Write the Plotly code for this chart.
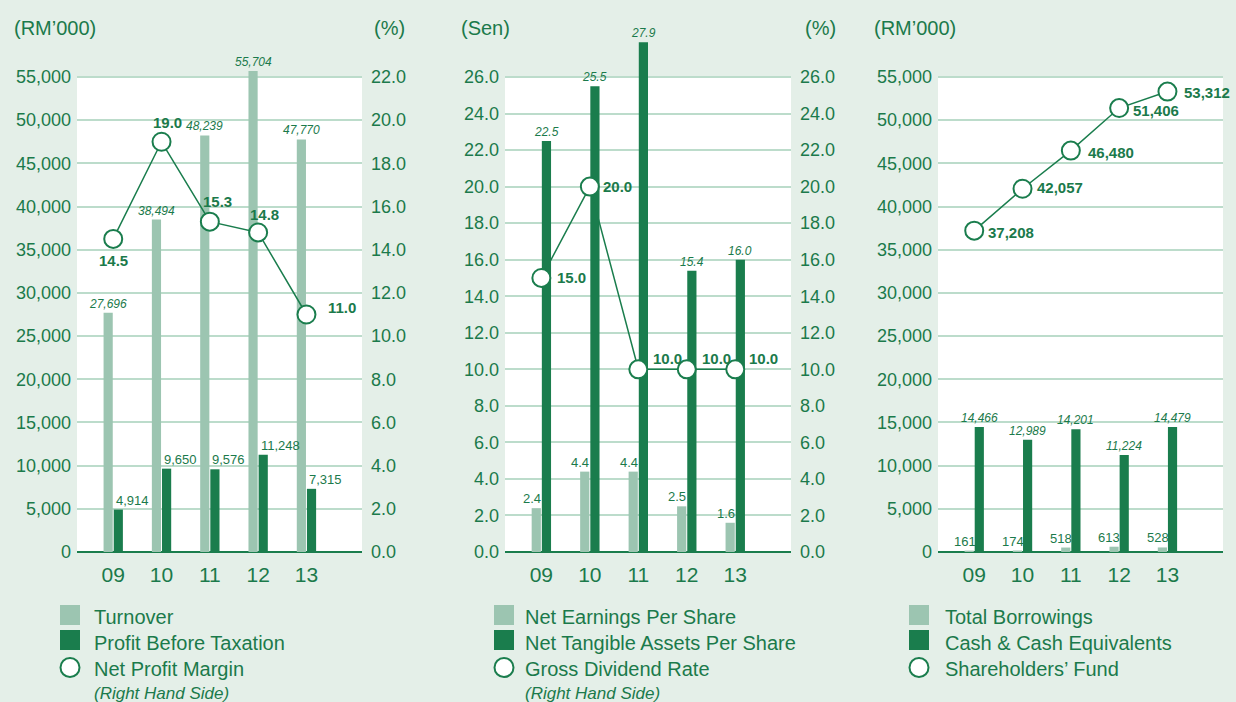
import plotly.graph_objects as go

# ---------------- data ----------------
years = ["09", "10", "11", "12", "13"]

turnover = [27696, 38494, 48239, 55704, 47770]
profit_before_tax = [4914, 9650, 9576, 11248, 7315]
net_profit_margin = [14.5, 19.0, 15.3, 14.8, 11.0]

net_eps = [2.4, 4.4, 4.4, 2.5, 1.6]
nta_per_share = [22.5, 25.5, 27.9, 15.4, 16.0]
gross_dividend_rate = [15.0, 20.0, 10.0, 10.0, 10.0]

total_borrowings = [161, 174, 518, 613, 528]
cash_equivalents = [14466, 12989, 14201, 11224, 14479]
shareholders_fund = [37208, 42057, 46480, 51406, 53312]

names1 = ["Turnover", "Profit Before Taxation", "Net Profit Margin"]
names2 = ["Net Earnings Per Share", "Net Tangible Assets Per Share", "Gross Dividend Rate"]
names3 = ["Total Borrowings", "Cash & Cash Equivalents", "Shareholders’ Fund"]
rhs_note = "(Right Hand Side)"

# ---------------- style ----------------
W, H = 1236, 702
BG = "#e4efe8"
GREEN = "#1b7a4b"
DARK = "#1a7d4d"
LIGHT = "#9cc5b1"
GRID = "#bcdccb"
FONT = "Liberation Sans"
NARROW = "Liberation Sans Narrow, Liberation Sans"

PLOT_TOP = 77      # px of top gridline
PLOT_BOT = 552     # px of zero line
DOM_TOP = 30       # px top of (unclipped) plotting region

def fx(p):
    return p / W

def fy(p):
    return 1 - p / H

def top_range(v):
    return v * (PLOT_BOT - DOM_TOP) / (PLOT_BOT - PLOT_TOP)

panels = [
    dict(x0=77, x1=362),
    dict(x0=505, x1=791),
    dict(x0=938, x1=1223),
]
XR = [-0.75, 5.15]

xpos = list(range(len(years)))  # category index positions on the axis

BW = 0.19
OFF_L = -0.2
OFF_D = 0.01

fig = go.Figure()

def add_bars(xa, ya, light, dark, n_light, n_dark):
    fig.add_trace(go.Bar(x=xpos, y=light, name=n_light, width=BW, offset=OFF_L,
                         marker=dict(color=LIGHT, line=dict(width=0)),
                         xaxis=xa, yaxis=ya, showlegend=False))
    fig.add_trace(go.Bar(x=xpos, y=dark, name=n_dark, width=BW, offset=OFF_D,
                         marker=dict(color=DARK, line=dict(width=0)),
                         xaxis=xa, yaxis=ya, showlegend=False))

def add_line(xa, ya, vals, name):
    fig.add_trace(go.Scatter(x=xpos, y=vals, name=name, mode="lines+markers",
                             line=dict(color=DARK, width=1.5),
                             marker=dict(size=18, color="white", line=dict(color=DARK, width=2)),
                             xaxis=xa, yaxis=ya, cliponaxis=False, showlegend=False))

add_bars("x", "y", turnover, profit_before_tax, names1[0], names1[1])
add_line("x", "y2", net_profit_margin, names1[2])
add_bars("x2", "y3", net_eps, nta_per_share, names2[0], names2[1])
add_line("x2", "y4", gross_dividend_rate, names2[2])
add_bars("x3", "y5", total_borrowings, cash_equivalents, names3[0], names3[1])
add_line("x3", "y5", shareholders_fund, names3[2])

annotations = []
shapes = []

def fmt_int(v):
    return f"{v:,}"

def fmt_1(v):
    return f"{v:.1f}"

def bar_labels(xa, ya, vals, fmt, italic, dx, xanchor="center", narrow=False, size=12):
    for i, v in zip(xpos, vals):
        annotations.append(dict(
            x=i + dx, y=v, xref=xa, yref=ya, text=fmt(v), showarrow=False,
            xanchor=xanchor, yanchor="bottom",
            font=dict(family=NARROW if narrow else FONT, size=size, color=GREEN,
                      style="italic" if italic else "normal")))

def line_labels(xa, ya, vals, fmt, offsets):
    for i, v, (xs, ys, anc) in zip(xpos, vals, offsets):
        annotations.append(dict(
            x=i, y=v, xref=xa, yref=ya, text=f"<b>{fmt(v)}</b>", showarrow=False,
            xanchor=anc, yanchor="middle", xshift=xs, yshift=ys,
            font=dict(family=FONT, size=15, color=GREEN)))

# panel 1 labels
bar_labels("x", "y", turnover, fmt_int, True, OFF_L + BW / 2)
bar_labels("x", "y", profit_before_tax, fmt_int, False, OFF_D, "left", narrow=True, size=13)
line_labels("x", "y2", net_profit_margin, fmt_1,
            [(0, -22, "center"), (6, 19, "center"), (8, 20, "center"), (6, 18, "center"), (20, 7, "left")])
# panel 2 labels
bar_labels("x2", "y3", net_eps, fmt_1, False, OFF_L, narrow=True, size=13)
bar_labels("x2", "y3", nta_per_share, fmt_1, True, OFF_D + BW / 2)
line_labels("x2", "y4", gross_dividend_rate, fmt_1,
            [(14, 0, "left"), (11, 0, "left"), (13, 11, "left"), (13, 11, "left"), (12, 11, "left")])
# panel 3 labels
bar_labels("x3", "y5", total_borrowings, fmt_int, False, OFF_L, narrow=True, size=13)
bar_labels("x3", "y5", cash_equivalents, fmt_int, True, OFF_D + BW / 2)
line_labels("x3", "y5", shareholders_fund, fmt_int,
            [(12, -2, "left"), (12, 1, "left"), (15, -2, "left"), (12, -2, "left"), (15, -1, "left")])

# plot background is white; cover the strip above the top gridline with page colour
for p in panels:
    shapes.append(dict(type="rect", xref="paper", yref="paper",
                       x0=fx(p["x0"] - 2), x1=fx(p["x1"] + 2), y0=fy(PLOT_TOP), y1=fy(DOM_TOP - 3),
                       fillcolor=BG, line=dict(width=0), layer="below"))

# unit labels
for text, xpx in [("(RM’000)", 12), ("(%)", 372), ("(Sen)", 459), ("(%)", 803), ("(RM’000)", 872)]:
    annotations.append(dict(x=fx(xpx), y=fy(28), xref="paper", yref="paper", text=text,
                            showarrow=False, xanchor="left", yanchor="middle",
                            font=dict(family=FONT, size=20, color=GREEN)))

# legends
legend_sets = [(60, 92, names1, True), (494, 523, names2, True), (909, 943, names3, False)]
for sq, tx, names, rhs in legend_sets:
    shapes.append(dict(type="rect", xref="paper", yref="paper", x0=fx(sq), x1=fx(sq + 20),
                       y0=fy(625), y1=fy(605), fillcolor=LIGHT, line=dict(width=0)))
    shapes.append(dict(type="rect", xref="paper", yref="paper", x0=fx(sq), x1=fx(sq + 20),
                       y0=fy(650), y1=fy(630), fillcolor=DARK, line=dict(width=0)))
    shapes.append(dict(type="circle", xref="paper", yref="paper", x0=fx(sq + 0.5), x1=fx(sq + 19.5),
                       y0=fy(677), y1=fy(658), fillcolor="white", line=dict(color=DARK, width=2)))
    for name, ypx in zip(names, [617, 643, 669]):
        annotations.append(dict(x=fx(tx), y=fy(ypx), xref="paper", yref="paper", text=name,
                                showarrow=False, xanchor="left", yanchor="middle",
                                font=dict(family=FONT, size=20, color=GREEN)))
    if rhs:
        annotations.append(dict(x=fx(tx), y=fy(693), xref="paper", yref="paper", text=rhs_note,
                                showarrow=False, xanchor="left", yanchor="middle",
                                font=dict(family=FONT, size=17, color=GREEN, style="italic")))

ydom = [fy(PLOT_BOT), fy(DOM_TOP)]

def xaxis(p, anchor):
    return dict(domain=[fx(p["x0"]), fx(p["x1"])], anchor=anchor, type="linear",
                range=XR, tickvals=xpos, ticktext=years, automargin=False,
                showgrid=False, zeroline=False, showline=False, ticks="",
                tickfont=dict(family=FONT, size=21, color=GREEN), ticklabelstandoff=8)

def ticks_upto(top, step):
    n = int(round(top / step))
    return [k * step for k in range(n + 1)]

def yleft(anchor, top, step, fmt):
    vals = ticks_upto(top, step)
    return dict(domain=ydom, anchor=anchor, range=[0, top_range(top)], tickvals=vals,
                ticktext=[fmt(t) for t in vals], showgrid=True, gridcolor=GRID, gridwidth=2,
                zeroline=True, zerolinecolor=DARK, zerolinewidth=2.5, showline=False, ticks="",
                tickfont=dict(family=FONT, size=18, color=GREEN), ticklabelstandoff=5,
                automargin=False)

def yright(anchor, overlay, top, step, fmt):
    vals = ticks_upto(top, step)
    return dict(domain=ydom, anchor=anchor, overlaying=overlay, side="right",
                range=[0, top_range(top)], tickvals=vals, ticktext=[fmt(t) for t in vals],
                showgrid=False, zeroline=False, showline=False, ticks="",
                tickfont=dict(family=FONT, size=18, color=GREEN), ticklabelstandoff=8,
                automargin=False)

fig.update_layout(
    template="none",
    width=W, height=H, autosize=False,
    margin=dict(l=0, r=0, t=0, b=0, pad=0),
    paper_bgcolor=BG, plot_bgcolor="white",
    barmode="overlay", showlegend=False,
    font=dict(family=FONT, color=GREEN),
    xaxis=xaxis(panels[0], "y"),
    yaxis=yleft("x", 55000, 5000, fmt_int),
    yaxis2=yright("x", "y", 22, 2, fmt_1),
    xaxis2=xaxis(panels[1], "y3"),
    yaxis3=yleft("x2", 26, 2, fmt_1),
    yaxis4=yright("x2", "y3", 26, 2, fmt_1),
    xaxis3=xaxis(panels[2], "y5"),
    yaxis5=yleft("x3", 55000, 5000, fmt_int),
    annotations=annotations,
    shapes=shapes,
)

fig.write_html("out.html",
               config={"displayModeBar": False, "responsive": False, "staticPlot": True},
               post_script="document.body.style.margin='0';document.body.style.overflow='hidden';")
